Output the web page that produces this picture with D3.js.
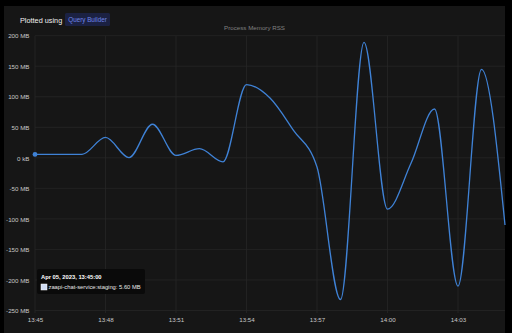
<!DOCTYPE html>
<html><head><meta charset="utf-8">
<script src="https://cdn.jsdelivr.net/npm/d3@7"></script>
<style>
html,body{margin:0;padding:0;background:#000;}
svg{display:block;}
text{font-family:"Liberation Sans",Arial,sans-serif;}
</style></head>
<body><svg id="c" width="512" height="333"></svg>
<script>
const times = ["13:45","13:46","13:47","13:48","13:49","13:50","13:51","13:52","13:53","13:54","13:55","13:56","13:57","13:58","13:59","14:00","14:01","14:02","14:03","14:04","14:05"];
const memoryMB = [5.6,5.6,5.7,33.4,0.5,55,4,15,-6.5,120,98,45,-15,-232,189,-84,-9,80,-210,145,-110];
const yTicks = [200,150,100,50,0,-50,-100,-150,-200,-250];
const yTickLabels = ["200 MB","150 MB","100 MB","50 MB","0 kB","-50 MB","-100 MB","-150 MB","-200 MB","-250 MB"];
const xTickLabels = ["13:45","13:48","13:51","13:54","13:57","14:00","14:03"];
const seriesName = "zaapi-chat-service:staging";
const tooltipTitle = "Apr 05, 2023, 13:45:00";
const tooltipValue = "5.60 MB";

const parse = d3.timeParse("%Y-%m-%d %H:%M");
const toDate = t => parse("2023-04-05 " + t);
const data = times.map((t,i)=>({t:toDate(t), v:memoryMB[i]}));

const svg = d3.select("#c");
// panel
svg.append("rect").attr("x",4).attr("y",6).attr("width",501).attr("height",327).attr("fill","#161616");

const x = d3.scaleTime().domain([toDate("13:45"), toDate("14:05")]).range([35,505]);
const y = d3.scaleLinear().domain([-250,200]).range([310.5,35.7]);

// grid
const gH = svg.append("g");
yTicks.forEach(v=>{
  gH.append("line").attr("x1",35).attr("x2",505).attr("y1",y(v)).attr("y2",y(v))
    .attr("stroke","#262626").attr("stroke-width",0.8);
});
xTickLabels.forEach(t=>{
  gH.append("line").attr("x1",x(toDate(t))).attr("x2",x(toDate(t))).attr("y1",35.7).attr("y2",313)
    .attr("stroke","#262626").attr("stroke-width",0.8);
});

// y axis labels
const yAxis = d3.axisLeft(y).tickValues(yTicks).tickSize(0).tickPadding(0)
  .tickFormat((d,i)=>yTickLabels[i]);
const gy = svg.append("g").attr("transform","translate(29.5,0)").call(yAxis);
gy.select(".domain").remove();
gy.selectAll("text").attr("fill","#c8c8c8").attr("font-size",6.2).attr("dy","0.35em").attr("font-family","Liberation Sans, Arial, sans-serif");

// x axis labels
const xAxis = d3.axisBottom(x).tickValues(xTickLabels.map(toDate)).tickSize(0).tickPadding(0)
  .tickFormat((d,i)=>xTickLabels[i]);
const gx = svg.append("g").attr("transform","translate(0,317.5)").call(xAxis);
gx.select(".domain").remove();
gx.selectAll("text").attr("fill","#c8c8c8").attr("font-size",6.2).attr("font-family","Liberation Sans, Arial, sans-serif");

// line
const line = d3.line().x(d=>x(d.t)).y(d=>y(d.v)).curve(d3.curveMonotoneX);
svg.append("path").datum(data).attr("d",line).attr("fill","none")
  .attr("stroke","#3f82d6").attr("stroke-width",1.3);
svg.append("circle").attr("cx",x(data[0].t)).attr("cy",y(data[0].v)).attr("r",2.4).attr("fill","#3f82d6");

// header
svg.append("text").attr("x",20).attr("y",22.5).attr("fill","#f0f0f0").attr("font-size",7.3).text("Plotted using");
svg.append("rect").attr("x",65).attr("y",13).attr("width",45).attr("height",13).attr("rx",1.5).attr("fill","#1b2142");
svg.append("text").attr("x",87.5).attr("y",22).attr("text-anchor","middle").attr("fill","#6f86e8").attr("font-size",6.3).text("Query Builder");
svg.append("text").attr("x",254.5).attr("y",29.5).attr("text-anchor","middle").attr("fill","#808080").attr("font-size",6.2).text("Process Memory RSS");

// tooltip
svg.append("rect").attr("x",37).attr("y",269).attr("width",108).attr("height",25).attr("rx",2).attr("fill","#0a0a0a");
svg.append("text").attr("x",41).attr("y",279).attr("fill","#ffffff").attr("font-size",5.8).attr("font-weight","bold").text(tooltipTitle);
svg.append("rect").attr("x",41).attr("y",284).attr("width",6).attr("height",6).attr("fill","#cfdcf5").attr("stroke","#ffffff").attr("stroke-width",0.5);
svg.append("text").attr("x",48.5).attr("y",289.3).attr("fill","#e8e8e8").attr("font-size",5.8).text(seriesName + ": " + tooltipValue);
</script></body></html>
